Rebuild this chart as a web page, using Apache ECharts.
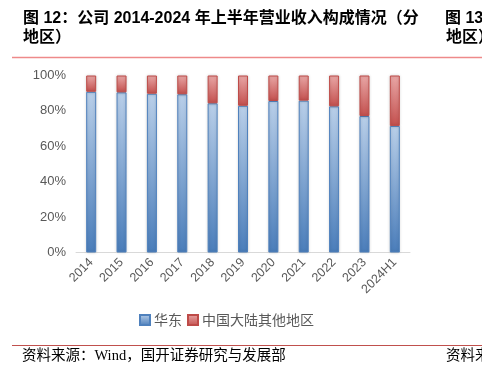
<!DOCTYPE html>
<html><head><meta charset="utf-8">
<script src="https://cdn.jsdelivr.net/npm/echarts@6/dist/echarts.min.js"></script>
<style>html,body{margin:0;padding:0;background:#fff;}#c{width:482px;height:369px;}</style>
</head><body><div id="c"></div>
<script>
const categories = ['2014','2015','2016','2017','2018','2019','2020','2021','2022','2023','2024H1'];
const huadong = [90.8, 90.5, 89.7, 89.4, 84.3, 82.9, 85.6, 85.8, 82.6, 77.1, 71.5];
const otherRegions = [9.2, 9.5, 10.3, 10.6, 15.7, 17.1, 14.4, 14.2, 17.4, 22.9, 28.5];
const seriesNames = ['华东', '中国大陆其他地区'];

const chart = echarts.init(document.getElementById('c'));
const G = echarts.graphic;
const cjk = '"Noto Sans CJK SC", sans-serif';
const titleFont = 'bold 16px Arial, "Liberation Sans", "Noto Sans CJK SC", sans-serif';
const serif = '"Liberation Serif", "Noto Sans CJK SC", serif';
chart.setOption({
  animation: false,
  backgroundColor: '#fff',
  grid: { left: 76, right: 72, top: 75.5, bottom: 116.5, containLabel: false },
  legend: {
    left: 134, top: 308, itemWidth: 10, itemHeight: 10, itemGap: 5,
    icon: 'rect',
    textStyle: { color: '#595959', fontSize: 14, fontFamily: cjk, padding: [0,0,0,-1] },
    data: seriesNames
  },
  xAxis: {
    type: 'category', data: categories,
    axisLine: { lineStyle: { color: '#d9d9d9', width: 1 } },
    axisTick: { show: false },
    axisLabel: { rotate: 45, color: '#595959', fontSize: 12.5, fontFamily: 'Arial, "Liberation Sans", sans-serif', margin: 8, interval: 0 }
  },
  yAxis: {
    type: 'value', min: 0, max: 100, interval: 20,
    axisLine: { show: false }, axisTick: { show: false },
    splitLine: { show: false },
    axisLabel: { formatter: '{value}%', color: '#595959', fontSize: 13, fontFamily: 'Arial, "Liberation Sans", sans-serif', margin: 10 }
  },
  series: [
    {
      name: seriesNames[0], type: 'bar', stack: 's', data: huadong, barWidth: 10,
      itemStyle: {
        color: new G.LinearGradient(0,0,0,1,[{offset:0,color:'#b9cfe9'},{offset:1,color:'#4a7dba'}]),
        borderColor: '#4f81bd', borderWidth: 1,
        shadowBlur: 3, shadowColor: 'rgba(0,0,0,0.18)'
      }
    },
    {
      name: seriesNames[1], type: 'bar', stack: 's', data: otherRegions, barWidth: 10,
      itemStyle: {
        color: new G.LinearGradient(0,0,0,1,[{offset:0,color:'#e9a7a6'},{offset:1,color:'#c4504e'}]),
        borderColor: '#be4b48', borderWidth: 1,
        shadowBlur: 3, shadowColor: 'rgba(0,0,0,0.18)'
      }
    }
  ],
  graphic: [
    { type: 'text', left: 23, top: 11, style: { text: '图 12：公司 2014-2024 年上半年营业收入构成情况（分', font: titleFont, fill: '#000' } },
    { type: 'text', left: 23, top: 30, style: { text: '地区）', font: titleFont, fill: '#000' } },
    { type: 'text', left: 445, top: 11, style: { text: '图 13', font: titleFont, fill: '#000' } },
    { type: 'text', left: 446, top: 30, style: { text: '地区）', font: titleFont, fill: '#000' } },
    { type: 'line', shape: { x1: 12, y1: 57.5, x2: 482, y2: 57.5 }, style: { stroke: '#ee8a8a', lineWidth: 1.5 } },
    { type: 'line', shape: { x1: 12, y1: 345.5, x2: 482, y2: 345.5 }, style: { stroke: '#c0504d', lineWidth: 1 } },
    { type: 'text', left: 22, top: 349, style: { text: '资料来源：Wind，国开证券研究与发展部', font: '14.5px ' + serif, fill: '#000' } },
    { type: 'text', left: 446, top: 349, style: { text: '资料来', font: '14.5px ' + serif, fill: '#000' } }
  ]
});
</script></body></html>
